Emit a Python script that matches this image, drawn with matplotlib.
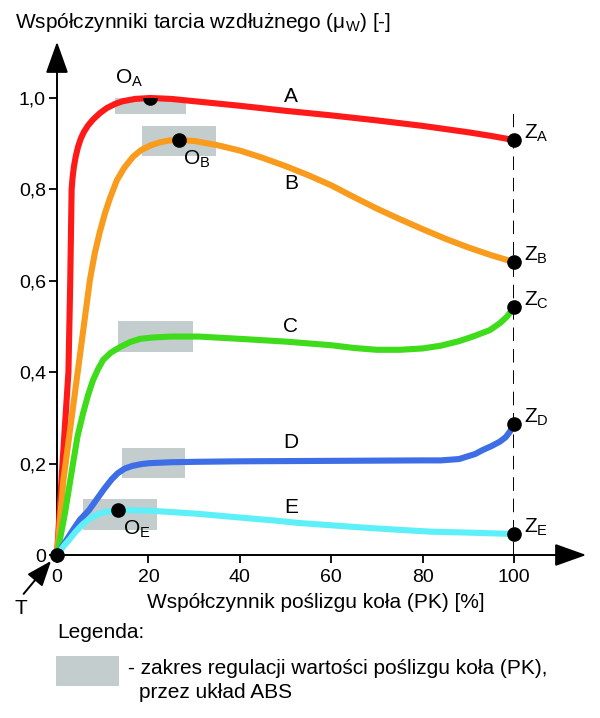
import matplotlib
matplotlib.use("Agg")
import matplotlib.pyplot as plt
from matplotlib.patches import Rectangle

plt.rcParams["font.family"] = ["Liberation Sans", "DejaVu Sans"]
plt.rcParams["mathtext.fontset"] = "custom"
plt.rcParams["mathtext.rm"] = "Liberation Sans"
plt.rcParams["mathtext.it"] = "Liberation Sans"

# curves: slip PK [%] -> friction coefficient
curve_names = ["A", "B", "C", "D", "E"]
curve_colors = ["#ff1a1a", "#f99b1c", "#3fdc1c", "#3d6ee6", "#5ef0f8"]

a_x = [0, 1.2, 2.5, 2.9, 3.2, 3.4, 3.7, 4.1, 4.6, 5.2, 5.9, 6.8, 7.9, 9.4, 10.9, 12.7, 14.4, 17.1, 20.4,
       25, 30, 35, 40, 50, 60, 70, 80, 85, 90, 95, 100]
a_y = [0, 0.2, 0.4, 0.6, 0.8, 0.825, 0.85, 0.872, 0.893, 0.911, 0.926, 0.94, 0.953, 0.967, 0.978, 0.987, 0.993, 0.998, 1.0,
       0.998, 0.993, 0.988, 0.983, 0.972, 0.962, 0.951, 0.939, 0.932, 0.925, 0.917, 0.908]

b_x = [0, 1.4, 4.3, 7.2, 8.3, 9.4, 10.5, 11.6, 13.1, 14.7, 16.6, 18.4, 20.4, 22.5, 24.5, 26.7,
       30, 35, 40, 45, 50, 55, 60, 65, 70, 75, 80, 85, 90, 95, 100]
b_y = [0, 0.164, 0.383, 0.602, 0.662, 0.708, 0.748, 0.781, 0.82, 0.847, 0.871, 0.886, 0.896, 0.903, 0.907, 0.908,
       0.906, 0.897, 0.885, 0.869, 0.851, 0.831, 0.809, 0.783, 0.758, 0.735, 0.713, 0.692, 0.673, 0.656, 0.641]

c_x = [0, 1.75, 3.5, 4.5, 5.7, 6.8, 7.9, 9, 10.1, 11.8, 13.8, 16, 18.2, 21, 25, 31,
       40, 50, 60, 65, 70, 75, 80, 84, 88, 91, 94.7, 97, 98.5, 100]
c_y = [0, 0.092, 0.2, 0.26, 0.31, 0.35, 0.383, 0.407, 0.427, 0.443, 0.455, 0.466, 0.473, 0.476, 0.478, 0.478,
       0.473, 0.467, 0.459, 0.453, 0.449, 0.449, 0.452, 0.458, 0.468, 0.478, 0.492, 0.508, 0.522, 0.542]

d_x = [0, 2.1, 3.5, 5, 7, 8.7, 10.5, 12, 13.3, 14.8, 16.5, 18.5, 20.3, 25, 31,
       40, 60, 80, 84, 88, 91.5, 93.2, 95, 96.9, 98.2, 99.1, 100]
d_y = [0, 0.033, 0.055, 0.077, 0.098, 0.122, 0.147, 0.166, 0.179, 0.189, 0.195, 0.199, 0.201, 0.203, 0.204,
       0.205, 0.206, 0.207, 0.207, 0.21, 0.221, 0.23, 0.238, 0.248, 0.258, 0.27, 0.287]

e_x = [0, 1.5, 2.8, 4, 5.7, 7.5, 9.4, 11, 13.3, 16, 20, 25, 31,
       40, 47, 53, 60, 67, 75, 82, 90, 100]
e_y = [0, 0.02, 0.035, 0.05, 0.068, 0.082, 0.091, 0.095, 0.098, 0.098, 0.097, 0.094, 0.09,
       0.082, 0.076, 0.07, 0.065, 0.06, 0.055, 0.051, 0.049, 0.046]

curves_x = [a_x, b_x, c_x, d_x, e_x]
curves_y = [a_y, b_y, c_y, d_y, e_y]

# curve name labels
label_x = 51.2
label_y = [1.004, 0.812, 0.499, 0.247, 0.103]

# ABS regulation ranges (grey boxes)
box_x0 = [12.7, 18.5, 13.4, 14.3, 5.6]
box_x1 = [28.2, 34.8, 29.7, 27.9, 21.9]
box_y0 = [0.966, 0.872, 0.445, 0.169, 0.055]
box_y1 = [1.033, 0.939, 0.511, 0.235, 0.123]

# optimum points O and locked-wheel points Z
o_names = ["A", "B", "E"]
o_x = [20.4, 26.7, 13.3]
o_y = [1.0, 0.908, 0.098]
o_offsets = [(-15, 14), (13, -14), (14, -14)]

z_x = 100
z_y = [a_y[-1], b_y[-1], c_y[-1], d_y[-1], e_y[-1]]

x_ticks = [0, 20, 40, 60, 80, 100]
y_ticks = [0, 0.2, 0.4, 0.6, 0.8, 1.0]
y_tick_labels = ["0", "0,2", "0,4", "0,6", "0,8", "1,0"]

grey = "#c4cdcd"
fs = 15

fig = plt.figure(figsize=(6, 7.18), dpi=100)
ax = fig.add_axes([57 / 600, 163 / 718, 457 / 600, 457 / 718])
ax.set_xlim(0, 100)
ax.set_ylim(0, 1)
for s in ax.spines.values():
    s.set_visible(False)

ax.set_xticks(x_ticks)
ax.set_xticklabels([str(t) for t in x_ticks])
ax.set_yticks(y_ticks)
ax.set_yticklabels(y_tick_labels)
ax.tick_params(direction="out", length=6, width=1.3, labelsize=14)
ax.tick_params(axis="x", pad=4)
ax.tick_params(axis="y", pad=2)

# axes with arrows
arrow = dict(arrowstyle="-|>,head_length=1.4,head_width=0.5", color="black",
             lw=1.4, mutation_scale=14, shrinkA=0, shrinkB=0)
ax.annotate("", xy=(115.8, 0), xytext=(0, 0), arrowprops=arrow, annotation_clip=False)
ax.annotate("", xy=(0, 1.123), xytext=(0, 0), arrowprops=arrow, annotation_clip=False)

for x0, x1, y0, y1 in zip(box_x0, box_x1, box_y0, box_y1):
    ax.add_patch(Rectangle((x0, y0), x1 - x0, y1 - y0, facecolor=grey,
                           edgecolor="none", zorder=1))

ax.plot([z_x, z_x], [0, 0.965], color="black", lw=1.4, ls=(0, (7, 4)), zorder=2)

for xs, ys, col in zip(curves_x, curves_y, curve_colors):
    ax.plot(xs, ys, color=col, lw=4.4, solid_capstyle="round",
            solid_joinstyle="round", zorder=3, clip_on=False)

for name, y in zip(curve_names, label_y):
    ax.text(label_x, y, name, fontsize=fs, ha="center", va="center")

ax.plot(o_x, o_y, "o", color="black", ms=9.5, zorder=5)
for name, x, y, off in zip(o_names, o_x, o_y, o_offsets):
    ax.annotate(r"$\mathregular{O_%s}$" % name, (x, y), xytext=off,
                textcoords="offset points", fontsize=fs, ha="center", va="center")

ax.plot([z_x] * len(z_y), z_y, "o", color="black", ms=9.5, zorder=5, clip_on=False)
for name, y in zip(curve_names, z_y):
    ax.annotate(r"$\mathregular{Z_%s}$" % name, (z_x, y), xytext=(7, 5),
                textcoords="offset points", fontsize=fs, ha="left", va="center")

ax.plot([0], [0], "o", color="black", ms=9.5, zorder=6, clip_on=False)

# T arrow to origin
ax.annotate("", xy=(-1.3, -0.013), xytext=(-7.3, -0.085), annotation_clip=False,
            arrowprops=dict(arrowstyle="-|>,head_length=1.3,head_width=0.5",
                            color="black", lw=1.4, mutation_scale=12,
                            shrinkA=0, shrinkB=0))
ax.text(-7.9, -0.118, "T", fontsize=fs, ha="center", va="center")

fig.text(15 / 600, 1 - 23 / 718, r"Współczynniki tarcia wzdłużnego ($\mathregular{\mu_W}$) [-]",
         fontsize=fs, ha="left", va="center")
fig.text(316 / 600, 1 - 602 / 718, "Współczynnik poślizgu koła (PK) [%]",
         fontsize=fs, ha="center", va="center")

fig.text(57 / 600, 1 - 632 / 718, "Legenda:", fontsize=fs, ha="left", va="center")
fig.add_artist(Rectangle((56 / 600, 1 - 686 / 718), 63 / 600, 30 / 718,
                         transform=fig.transFigure, facecolor=grey, edgecolor="none"))
fig.text(128 / 600, 1 - 669 / 718, "- zakres regulacji wartości poślizgu koła (PK),",
         fontsize=fs, ha="left", va="center")
fig.text(139 / 600, 1 - 692 / 718, "przez układ ABS", fontsize=fs, ha="left", va="center")

fig.savefig("out.png", dpi=100)
